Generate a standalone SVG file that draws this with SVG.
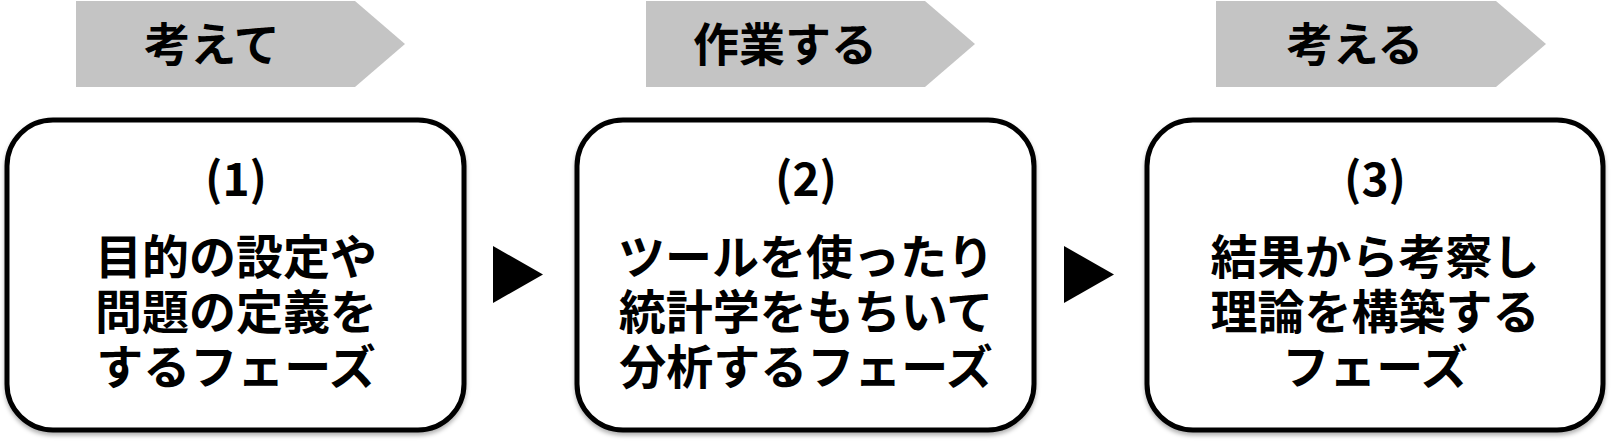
<svg xmlns="http://www.w3.org/2000/svg" width="1612" height="441" viewBox="0 0 1612 441">
<style>
  .banner { fill: #c4c4c4; }
  .btxt { font-family: "Noto Sans CJK JP", sans-serif; font-weight: 700; font-size: 46px; fill: #000; text-anchor: middle; }
  .box { fill: #fff; stroke: #000; stroke-width: 5; filter: url(#sh); }
  .num { font-family: "Noto Sans CJK JP", sans-serif; font-weight: 700; font-size: 46px; fill: #000; text-anchor: middle; }
  .main { font-family: "Noto Sans CJK JP", sans-serif; font-weight: 700; font-size: 47px; fill: #000; text-anchor: middle; }
  .tri { fill: #000; }
</style>
<defs>
  <filter id="sh" x="-5%" y="-5%" width="110%" height="115%">
    <feDropShadow dx="0" dy="3" stdDeviation="2" flood-color="#000" flood-opacity="0.3"/>
  </filter>
</defs>
<rect width="1612" height="441" fill="#fff"/>

<g id="banner1">
  <polygon class="banner" points="76,1 355,1 405,44 355,87 76,87"/>
  <text class="btxt" x="212" y="61">考えて</text>
</g>
<g id="banner2">
  <polygon class="banner" points="646,1 925,1 975,44 925,87 646,87"/>
  <text class="btxt" x="785" y="61">作業する</text>
</g>
<g id="banner3">
  <polygon class="banner" points="1216,1 1496,1 1546,44 1496,87 1216,87"/>
  <text class="btxt" x="1355" y="61">考える</text>
</g>

<g id="node1">
  <rect class="box" x="7" y="120" width="457" height="310" rx="46" ry="46"/>
  <text class="num" x="236" y="196">(1)</text>
  <text class="main" x="236" y="274">目的の設定や</text>
  <text class="main" x="236" y="329">問題の定義を</text>
  <text class="main" x="236" y="384">するフェーズ</text>
</g>
<g id="node2">
  <rect class="box" x="577" y="120" width="457" height="310" rx="46" ry="46"/>
  <text class="num" x="806" y="196">(2)</text>
  <text class="main" x="806" y="274">ツールを使ったり</text>
  <text class="main" x="806" y="329">統計学をもちいて</text>
  <text class="main" x="806" y="384">分析するフェーズ</text>
</g>
<g id="node3">
  <rect class="box" x="1147" y="120" width="456" height="310" rx="46" ry="46"/>
  <text class="num" x="1375" y="196">(3)</text>
  <text class="main" x="1375" y="274">結果から考察し</text>
  <text class="main" x="1375" y="329">理論を構築する</text>
  <text class="main" x="1375" y="384">フェーズ</text>
</g>

<g id="connectors">
  <polygon class="tri" points="493,246 543,274.5 493,303"/>
  <polygon class="tri" points="1064,246 1114,274.5 1064,303"/>
</g>
</svg>
